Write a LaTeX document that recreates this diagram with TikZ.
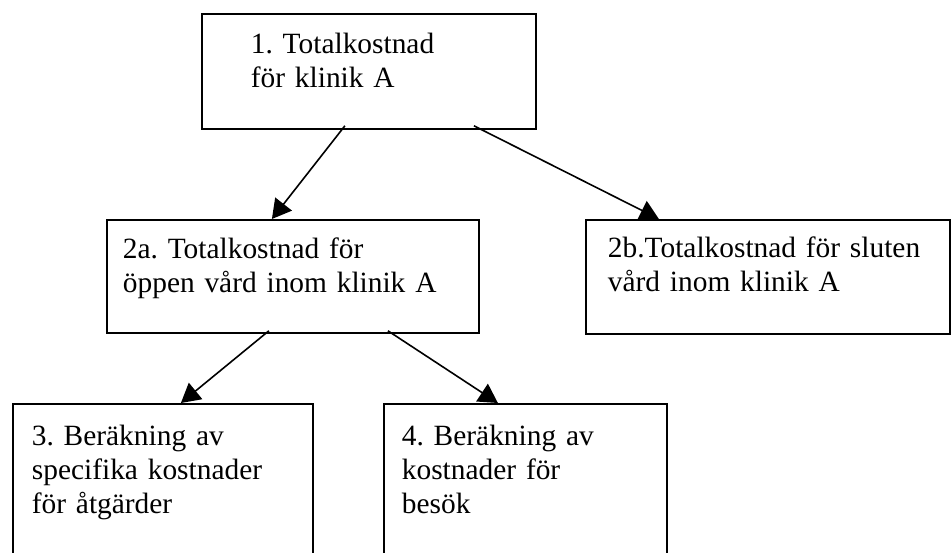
\documentclass[tikz,border=0pt]{standalone}
\usepackage{fontspec}
\setmainfont{Liberation Serif}
\usetikzlibrary{arrows.meta}
\tikzset{
  blk/.style ={draw, rectangle, align=left, line width=1.8pt, inner ysep=0pt,
               font=\fontsize{29.4pt}{33.8pt}\selectfont\frenchspacing},
  ar/.style  ={-{Triangle[length=19pt,width=21pt]}, line width=1.6pt},
}
\begin{document}
\begin{tikzpicture}[x=1pt,y=1pt]
\clip (0,0) rectangle (951,-553);
\node[blk, anchor=north west, text width=236pt, inner xsep=49pt,
      text height=40pt, text depth=75pt] (tot) at (201,-13)
  {1. Totalkostnad\\för klinik A};
\node[blk, anchor=north west, text width=340pt, inner xsep=16pt,
      text height=39pt, text depth=74pt] (oppen) at (106,-219)
  {2a. Totalkostnad för\\öppen vård inom klinik A};
\node[blk, anchor=north west, text width=320pt, inner xsep=22pt,
      text height=38pt, text depth=76pt] (sluten) at (585,-219)
  {2b.Totalkostnad för sluten\\vård inom klinik A};
\node[blk, anchor=north west, text width=262pt, inner xsep=19pt,
      text height=42pt, text depth=170pt] (atg) at (12,-403)
  {3. Beräkning av\\specifika kostnader\\för åtgärder};
\node[blk, anchor=north west, text width=247pt, inner xsep=18pt,
      text height=42pt, text depth=170pt] (besok) at (383,-403)
  {4. Beräkning av\\kostnader för\\besök};
% arrows
\draw[ar] ([xshift=-24pt,yshift=4pt]tot.south) -- ([xshift=-21pt]oppen.north);
\draw[ar] ([xshift=105pt,yshift=4pt]tot.south) -- ([xshift=-109pt]sluten.north);
\draw[ar] ([xshift=-24pt,yshift=3pt]oppen.south) -- ([xshift=18pt]atg.north);
\draw[ar] ([xshift=95pt,yshift=3pt]oppen.south) -- ([xshift=-27.5pt]besok.north);
\end{tikzpicture}
\end{document}
